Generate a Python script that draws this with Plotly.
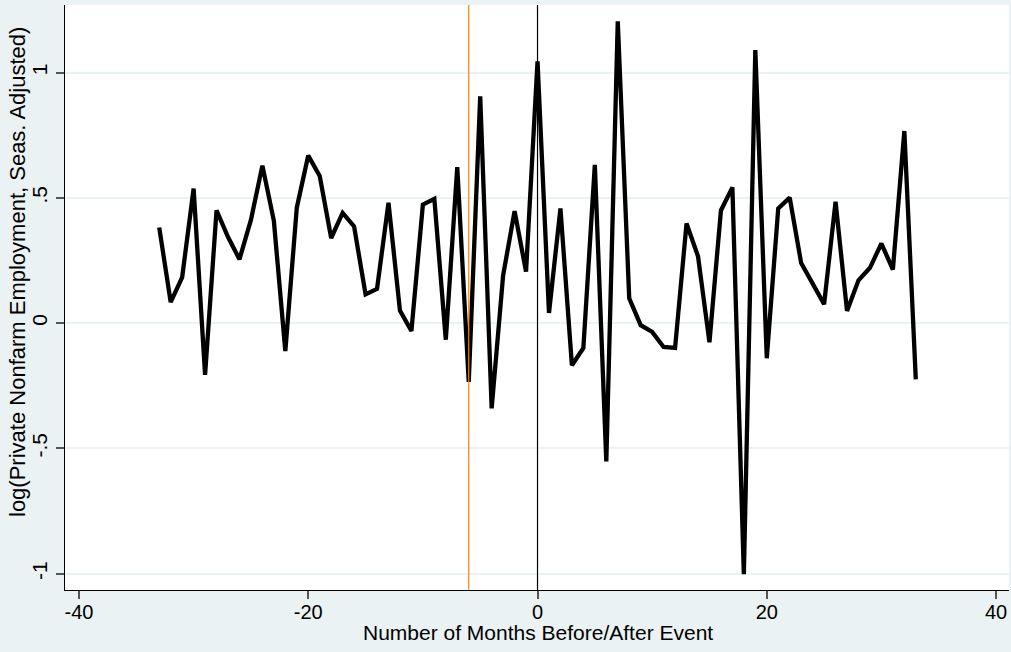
import plotly.graph_objects as go

months = list(range(-33, 34))
log_emp = [0.382, 0.084, 0.183, 0.537, -0.206, 0.450, 0.344, 0.255, 0.412, 0.629,
           0.409, -0.111, 0.461, 0.669, 0.588, 0.340, 0.440, 0.386, 0.115, 0.137,
           0.481, 0.050, -0.031, 0.473, 0.496, -0.066, 0.623, -0.234, 0.905, -0.340,
           0.191, 0.447, 0.206, 1.045, 0.041, 0.458, -0.168, -0.099, 0.632, -0.552,
           1.205, 0.099, -0.008, -0.035, -0.095, -0.099, 0.398, 0.267, -0.076, 0.450,
           0.542, -1.002, 1.090, -0.140, 0.458, 0.501, 0.240, 0.158, 0.076, 0.485,
           0.049, 0.171, 0.221, 0.318, 0.214, 0.767, -0.224]

event_line = 0
treatment_line = -6

x_ticks = [-40, -20, 0, 20, 40]
y_ticks = [-1, -0.5, 0, 0.5, 1]
y_tick_labels = ["-1", "-.5", "0", ".5", "1"]

x_title = "Number of Months Before/After Event"
y_title = "log(Private Nonfarm Employment, Seas. Adjusted)"

FONT = "Liberation Sans, Arial, sans-serif"
BG = "#EAF2F3"

W, H = 1011, 652
ML, MR, MT, MB = 65, 2, 5, 62
PW, PH = W - ML - MR, H - MT - MB

fig = go.Figure()
fig.add_trace(go.Scatter(
    x=months, y=log_emp, mode="lines",
    line=dict(color="black", width=4.3),
    showlegend=False, hoverinfo="skip",
))

fig.add_vline(x=treatment_line, line=dict(color="#FF7F00", width=1.2), layer="above")
fig.add_vline(x=event_line, line=dict(color="black", width=1.2), layer="above")

fig.update_layout(
    width=W, height=H,
    paper_bgcolor=BG, plot_bgcolor="white",
    margin=dict(l=ML, r=MR, t=MT, b=MB, autoexpand=False),
    font=dict(family=FONT, size=20, color="black"),
    showlegend=False,
)

fig.add_annotation(
    text=x_title, xref="paper", yref="paper",
    x=(537.5 - ML) / PW, y=-(632 - (H - MB)) / PH,
    xanchor="center", yanchor="middle", showarrow=False,
    font=dict(size=21, family=FONT, color="black"),
)
fig.add_annotation(
    text=y_title, xref="paper", yref="paper",
    x=-(ML - 17) / PW, y=(H - MB - 272) / PH,
    xanchor="center", yanchor="middle", showarrow=False, textangle=-90,
    font=dict(size=22, family=FONT, color="black"),
)

fig.update_xaxes(
    range=[-41.22, 41.13],
    automargin=False,
    tickvals=x_ticks,
    ticktext=[str(v) for v in x_ticks],
    ticks="outside", ticklen=8, tickwidth=1.5, tickcolor="#555555",
    ticklabelstandoff=-4,
    showgrid=False, zeroline=False,
    showline=True, linecolor="black", linewidth=1.2,
    tickfont=dict(size=20),
)

fig.update_yaxes(
    range=[-1.065, 1.270],
    automargin=False,
    tickvals=y_ticks,
    ticktext=y_tick_labels,
    tickangle=-90,
    ticks="outside", ticklen=8, tickwidth=1.5, tickcolor="#555555",
    ticklabelstandoff=1,
    showgrid=True, gridcolor=BG, gridwidth=2,
    zeroline=False,
    showline=True, linecolor="black", linewidth=1.2,
    tickfont=dict(size=21),
)

fig.write_html(
    "out.html",
    config={"displayModeBar": False},
    post_script="document.body.style.margin='0';document.body.style.background='#EAF2F3';",
)
